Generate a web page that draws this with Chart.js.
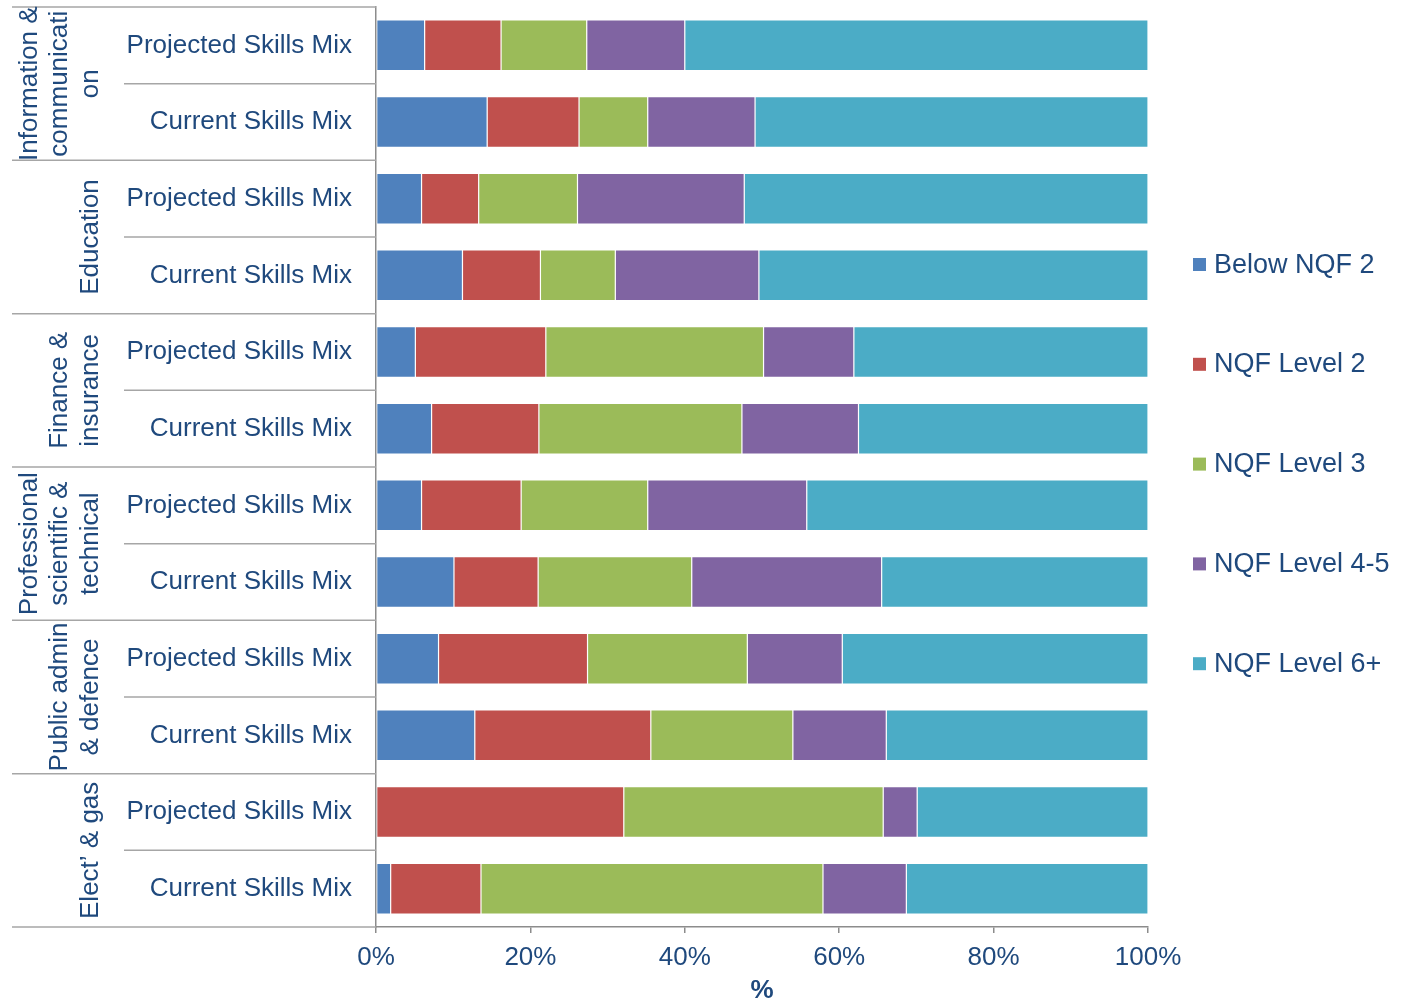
<!DOCTYPE html>
<html lang="en">
<head>
<meta charset="UTF-8">
<title>Current vs projected skills mix by sector</title>
<script src="https://cdn.jsdelivr.net/npm/chart.js@4"></script>
<style>
  body { margin: 0; background: #fff; }
  #wrap { width: 1401px; height: 1006px; }
</style>
</head>
<body>
<div id="wrap"><canvas id="skills-chart" width="1401" height="1006"></canvas></div>
<script>
// rows, top to bottom
const rowLabels = [
  'Projected Skills Mix', 'Current Skills Mix',
  'Projected Skills Mix', 'Current Skills Mix',
  'Projected Skills Mix', 'Current Skills Mix',
  'Projected Skills Mix', 'Current Skills Mix',
  'Projected Skills Mix', 'Current Skills Mix',
  'Projected Skills Mix', 'Current Skills Mix'
];
// sector names, one entry per pair of rows (already wrapped like the original)
const sectorNames = [
  ['Information &', 'communicati', 'on'],
  ['Education'],
  ['Finance &', 'insurance'],
  ['Professional', 'scientific &', 'technical'],
  ['Public admin', '& defence'],
  ['Elect\u2019 & gas']
];
const levelNames = ['Below NQF 2', 'NQF Level 2', 'NQF Level 3', 'NQF Level 4-5', 'NQF Level 6+'];
const levelColors = ['#4F81BD', '#C0504D', '#9BBB59', '#8064A2', '#4BACC6'];

// shares in %
const belowNqf2 = [6.3, 14.4, 5.9, 11.2, 5.1, 7.2, 5.9, 10.1, 8.1, 12.8, 0, 1.9];
const nqfLevel2 = [9.9, 11.9, 7.4, 10.1, 16.9, 13.9, 12.9, 10.9, 19.3, 22.8, 32.1, 11.7];
const nqfLevel3 = [11.1, 8.9, 12.8, 9.7, 28.2, 26.3, 16.4, 19.9, 20.7, 18.4, 33.6, 44.3];
const nqfLevel45 = [12.7, 13.9, 21.6, 18.6, 11.7, 15.1, 20.6, 24.6, 12.3, 12.1, 4.4, 10.8];
const nqfLevel6 = [60.0, 50.9, 52.3, 50.4, 38.1, 37.5, 44.2, 34.5, 39.6, 33.9, 29.9, 31.3];

const xTickValues = [0, 20, 40, 60, 80, 100];

const textColor = '#1F497D';
const axisColor = '#8C8C8C';
const fontFamily = "'Liberation Sans', Arial, sans-serif";

const seriesValues = [belowNqf2, nqfLevel2, nqfLevel3, nqfLevel45, nqfLevel6];

// sector labels, separator lines and legend drawn next to the plot
const sideLabels = {
  id: 'sideLabels',
  afterDraw(chart) {
    const { ctx, chartArea, scales: { y } } = chart;
    ctx.save();
    ctx.strokeStyle = '#A6A6A6';
    ctx.lineWidth = 1.5;
    const hLine = (x1, x2, yy) => {
      ctx.beginPath();
      ctx.moveTo(x1, yy);
      ctx.lineTo(x2, yy);
      ctx.stroke();
    };
    sectorNames.forEach((_, g) => {
      hLine(124, chartArea.left, y.getPixelForValue(2 * g + 0.5));
    });
    for (let g = 0; g <= sectorNames.length; g++) {
      hLine(12, chartArea.left, y.getPixelForValue(2 * g - 0.5));
    }

    ctx.fillStyle = textColor;
    ctx.font = '26px ' + fontFamily;
    ctx.textAlign = 'center';
    ctx.textBaseline = 'alphabetic';
    sectorNames.forEach((lines, g) => {
      const cy = (y.getPixelForValue(2 * g - 0.5) + y.getPixelForValue(2 * g + 1.5)) / 2;
      lines.forEach((txt, i) => {
        const bx = 98 - (lines.length - 1 - i) * 30.7;
        ctx.save();
        ctx.translate(bx, cy);
        ctx.rotate(-Math.PI / 2);
        ctx.fillText(txt, 0, 0);
        ctx.restore();
      });
    });

    // legend
    ctx.textAlign = 'left';
    ctx.font = '27px ' + fontFamily;
    chart.data.datasets.forEach((ds, i) => {
      const cy = 264.5 + i * 99.8;
      ctx.fillStyle = ds.backgroundColor;
      ctx.fillRect(chartArea.right + 45, cy - 6.5, 13, 13);
      ctx.fillStyle = textColor;
      ctx.fillText(ds.label, chartArea.right + 66, cy + 8);
    });
    ctx.restore();
  }
};

new Chart(document.getElementById('skills-chart'), {
  type: 'bar',
  data: {
    labels: rowLabels,
    datasets: levelNames.map((name, i) => ({
      label: name,
      data: seriesValues[i],
      backgroundColor: levelColors[i],
      borderColor: 'rgba(255,255,255,0.45)',
      borderWidth: 0.6,
      borderSkipped: false,
      barPercentage: 0.662,
      categoryPercentage: 1
    }))
  },
  options: {
    indexAxis: 'y',
    responsive: false,
    animation: false,
    layout: { padding: { left: 0, top: 7, right: 253, bottom: 0 } },
    plugins: {
      legend: { display: false },
      tooltip: { enabled: false }
    },
    scales: {
      x: {
        stacked: true,
        min: 0,
        max: 100,
        afterBuildTicks(scale) { scale.ticks = xTickValues.map(v => ({ value: v })); },
        afterFit(scale) { scale.height = 79; },
        grid: { drawOnChartArea: false, drawTicks: true, tickLength: 6, color: axisColor, lineWidth: 1.5 },
        border: { display: true, color: axisColor, width: 1.5 },
        ticks: {
          padding: 9,
          color: textColor,
          font: { family: fontFamily, size: 26 },
          callback: v => v + '%'
        },
        title: {
          display: true,
          text: '%',
          color: textColor,
          padding: { top: 0, bottom: 0 },
          font: { family: fontFamily, size: 26, weight: 'bold' }
        }
      },
      y: {
        stacked: true,
        afterFit(scale) {
          scale.width = 376;
          // the row labels sit inside their rows, no extra room needed above/below
          scale.paddingTop = 0;
          scale.paddingBottom = 0;
        },
        grid: { display: false, drawTicks: false },
        border: { display: true, color: axisColor, width: 1.5 },
        ticks: {
          padding: 24,
          color: textColor,
          font: { family: fontFamily, size: 26 }
        }
      }
    }
  },
  plugins: [sideLabels]
});
</script>
</body>
</html>
